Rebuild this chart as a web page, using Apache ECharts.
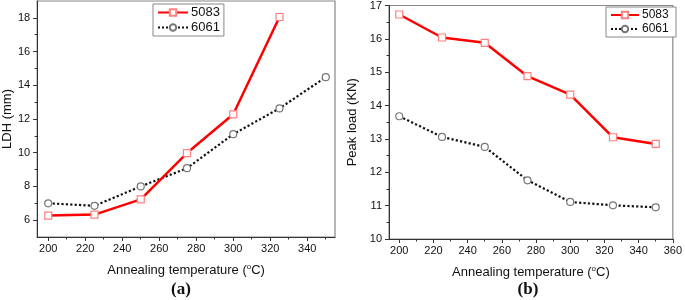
<!DOCTYPE html>
<html><head><meta charset="utf-8">
<script src="https://cdn.jsdelivr.net/npm/echarts@6/dist/echarts.min.js"></script>
<style>html,body{margin:0;padding:0;background:#fff}#c{width:685px;height:300px}</style>
</head><body><div id="c"></div>
<script>
const temps = [200, 225, 250, 275, 300, 325, 350];
const ldh5083 = [6.27, 6.33, 7.23, 9.98, 12.28, 18.05];
const ldh6061 = [7.0, 6.85, 8.0, 9.08, 11.1, 12.63, 14.48];
const load5083 = [16.73, 16.04, 15.88, 14.88, 14.33, 13.05, 12.85];
const load6061 = [13.68, 13.06, 12.76, 11.76, 11.11, 11.01, 10.95];
const xMajor = [200, 220, 240, 260, 280, 300, 320, 340];
const xMajorB = [200, 220, 240, 260, 280, 300, 320, 340, 360];
const xMinor = [210, 230, 250, 270, 290, 310, 330, 350];
const yMajorA = [6, 8, 10, 12, 14, 16, 18];
const yMinorA = [7, 9, 11, 13, 15, 17];
const yMajorB = [10, 11, 12, 13, 14, 15, 16, 17];
const yMinorB = [10.5, 11.5, 12.5, 13.5, 14.5, 15.5, 16.5];

const pairs = (xs, ys) => ys.map((v, i) => [xs[i], v]);
const FONT = 'Liberation Sans';
const nameRich = {
  s: { fontSize: 8, fontFamily: FONT, color: '#111', verticalAlign: 'top', padding: [0, 0, 7, 0] }
};

function xAxes(grid, min, max, majors) {
  return [
    {
      type: 'value', gridIndex: grid, min: min, max: max, position: 'bottom',
      name: 'Annealing temperature ({s|o}C)', nameLocation: 'middle', nameGap: 26,
      nameTextStyle: { fontFamily: FONT, fontSize: 13, color: '#111', rich: nameRich },
      axisLine: { show: true, onZero: false, lineStyle: { color: '#333', width: 1 } },
      axisTick: { show: true, customValues: majors, length: 4, lineStyle: { color: '#333' } },
      axisLabel: { customValues: majors, fontFamily: FONT, fontSize: 11, color: '#111', margin: 6 },
      splitLine: { show: false }
    },
    {
      type: 'value', gridIndex: grid, min: min, max: max, position: 'bottom',
      axisLine: { show: false, onZero: false },
      axisTick: { show: true, customValues: xMinor, length: 2.5, lineStyle: { color: '#333' } },
      axisLabel: { show: false },
      splitLine: { show: false }
    }
  ];
}
function yAxes(grid, min, max, majors, minors, name, gap) {
  return [
    {
      type: 'value', gridIndex: grid, min: min, max: max, position: 'left',
      name: name, nameLocation: 'middle', nameGap: gap,
      nameTextStyle: { fontFamily: FONT, fontSize: 13, color: '#111' },
      axisLine: { show: true, onZero: false, lineStyle: { color: '#333', width: 1 } },
      axisTick: { show: true, customValues: majors, length: 4, lineStyle: { color: '#333' } },
      axisLabel: { customValues: majors, fontFamily: FONT, fontSize: 11, color: '#111', margin: 7 },
      splitLine: { show: false }
    },
    {
      type: 'value', gridIndex: grid, min: min, max: max, position: 'left',
      axisLine: { show: false, onZero: false },
      axisTick: { show: true, customValues: minors, length: 2.5, lineStyle: { color: '#333' } },
      axisLabel: { show: false },
      splitLine: { show: false }
    }
  ];
}

function s5083(name, data, xi, yi) {
  return {
    name: name, type: 'line', xAxisIndex: xi, yAxisIndex: yi, data: data,
    symbol: 'rect', symbolSize: 7, showSymbol: true,
    lineStyle: { color: '#ff0000', width: 2.5 },
    itemStyle: { color: '#fff', borderColor: '#ff8080', borderWidth: 1.2 },
    emphasis: { disabled: true }, z: 3
  };
}
function s6061(name, data, xi, yi) {
  return {
    name: name, type: 'line', xAxisIndex: xi, yAxisIndex: yi, data: data,
    symbol: 'circle', symbolSize: 7, showSymbol: true,
    lineStyle: { color: '#111', width: 2.2, type: 'dotted' },
    itemStyle: { color: '#fff', borderColor: '#777', borderWidth: 1.2 },
    emphasis: { disabled: true }, z: 2
  };
}

const chart = echarts.init(document.getElementById('c'), null, { renderer: 'canvas' });
chart.setOption({
  animation: false,
  backgroundColor: '#fff',
  title: [
    { text: '(a)', left: 181, top: 281, textAlign: 'center', padding: 0,
      textStyle: { fontFamily: 'Liberation Serif', fontWeight: 'bold', fontSize: 17, color: '#111', lineHeight: 17 } },
    { text: '(b)', left: 528, top: 281, textAlign: 'center', padding: 0,
      textStyle: { fontFamily: 'Liberation Serif', fontWeight: 'bold', fontSize: 17, color: '#111', lineHeight: 17 } }
  ],
  grid: [
    { left: 34, top: 1, width: 301, height: 236, show: true, borderColor: '#888', borderWidth: 1.2 },
    { left: 389, top: 5, width: 288, height: 234, show: true, borderColor: '#888', borderWidth: 1.2 }
  ],
  legend: [
    { data: ['5083', '6061'], orient: 'vertical', left: 153, top: 4, itemGap: 2,
      itemWidth: 30, itemHeight: 8, padding: [2, 4, 2, 4],
      borderColor: '#888', borderWidth: 1, backgroundColor: '#fff',
      textStyle: { fontFamily: FONT, fontSize: 13, color: '#111', padding: [0, 0, 0, -2] } },
    { data: ['5083 ', '6061 '], orient: 'vertical', left: 606, top: 7, itemGap: 2,
      itemWidth: 28, itemHeight: 8, padding: [2, 4, 2, 4],
      borderColor: '#888', borderWidth: 1, backgroundColor: '#fff',
      textStyle: { fontFamily: FONT, fontSize: 12, color: '#111', padding: [0, 0, 0, -2] } }
  ],
  xAxis: [...xAxes(0, 194, 355, xMajor), ...xAxes(1, 194, 360, xMajorB)],
  yAxis: [...yAxes(0, 5, 19, yMajorA, yMinorA, 'LDH (mm)', 19),
          ...yAxes(1, 10, 17, yMajorB, yMinorB, 'Peak load (KN)', 30)],
  series: [
    s5083('5083', pairs(temps, ldh5083), 0, 0),
    s6061('6061', pairs(temps, ldh6061), 0, 0),
    s5083('5083 ', pairs(temps, load5083), 2, 2),
    s6061('6061 ', pairs(temps, load6061), 2, 2)
  ]
});
</script></body></html>
